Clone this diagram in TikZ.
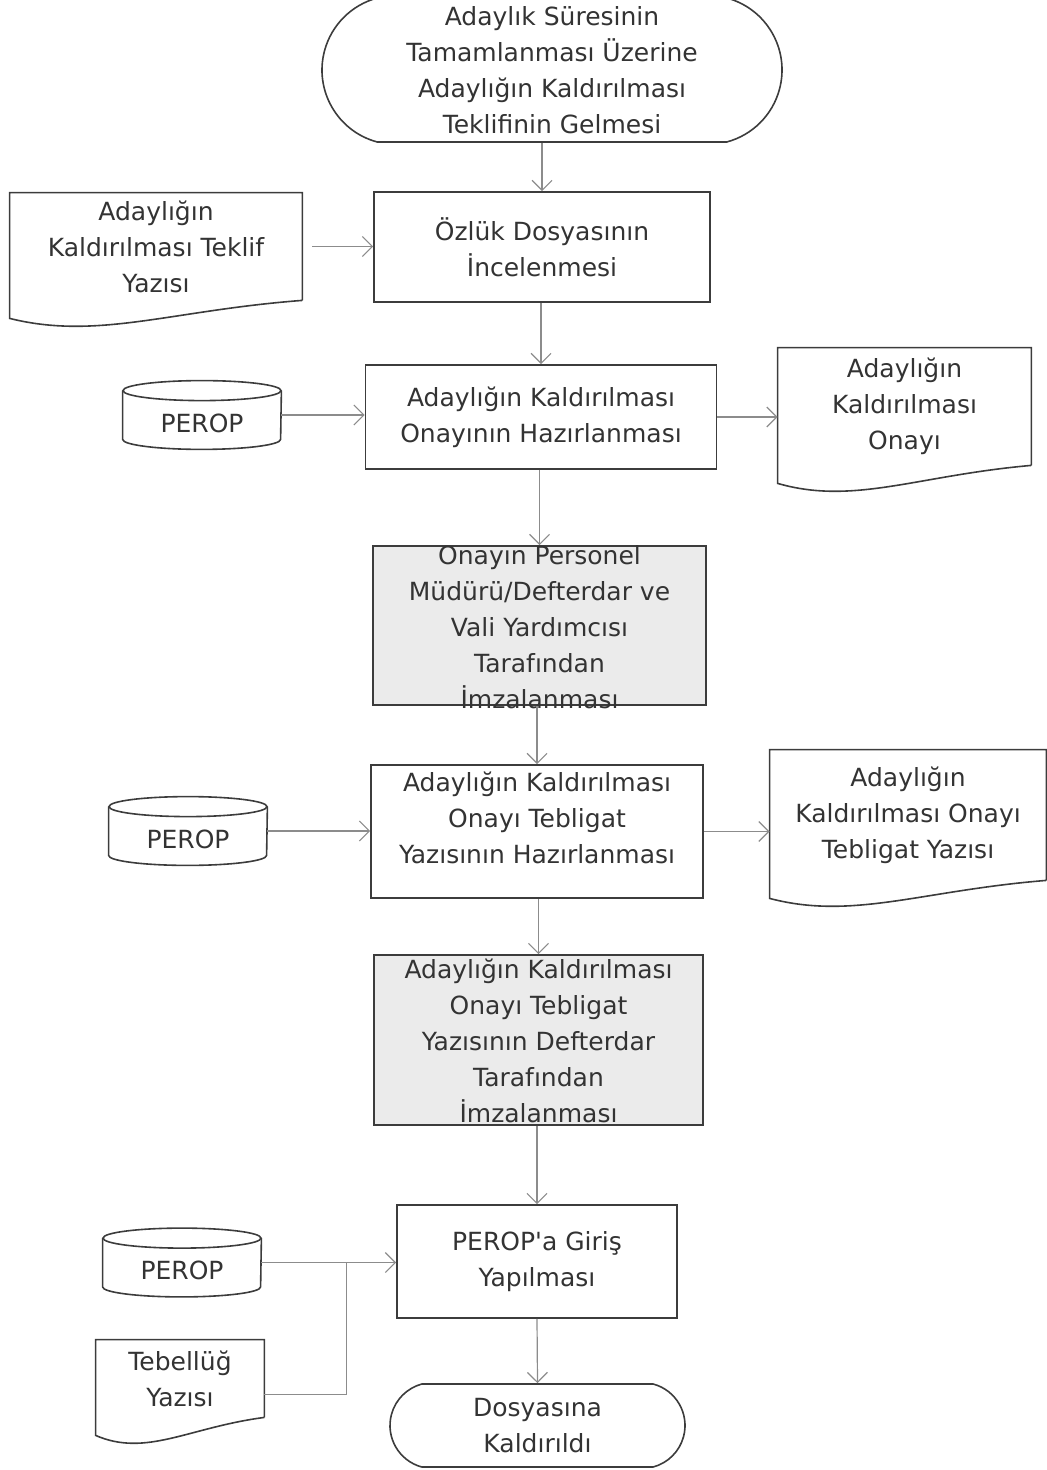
\documentclass[tikz,border=0pt]{standalone}
\usepackage{fontspec}
\setmainfont{DejaVu Sans}
\usetikzlibrary{arrows.meta,shapes.misc,calc}

\definecolor{kenar}{HTML}{3C3C3C}
\definecolor{okrenk}{HTML}{8C8C8C}
\definecolor{yazi}{HTML}{333333}
\definecolor{imzarenk}{HTML}{EBEBEB}

\tikzset{
  kutu/.style={draw=kenar, line width=0.8pt, rectangle, inner sep=0pt, align=center},
  imzakutu/.style={kutu, fill=imzarenk},
  uc/.style={draw=kenar, line width=0.8pt, rounded rectangle, rounded rectangle arc length=150, inner sep=0pt, align=center},
  belge/.style={rectangle, inner sep=0pt, align=center},
  veri/.style={rectangle, inner sep=0pt, minimum width=79pt, minimum height=34pt, text height=17pt, text depth=0pt},
  cizgi/.style={draw=kenar, line width=0.8pt},
  ok/.style={draw=okrenk, line width=0.6pt, -{Straight Barb[length=5pt,width=10pt]}},
}

\begin{document}
\begin{tikzpicture}[x=0.5pt, y=-0.5pt, font=\fontsize{12.5}{18}\selectfont, text=yazi]
  \useasboundingbox (0,0) rectangle (1046,1470);

  % ana akis
  \node[uc, minimum width=230pt, minimum height=72pt] (basla) at (552,70)
    {Adaylık Süresinin\\Tamamlanması Üzerine\\Adaylığın Kaldırılması\\Teklifinin Gelmesi};
  \node[kutu, minimum width=168pt, minimum height=55pt] (incele) at (542,247)
    {Özlük Dosyasının\\İncelenmesi};
  \node[kutu, minimum width=175.5pt, minimum height=52pt] (hazir) at (541,417)
    {Adaylığın Kaldırılması\\Onayının Hazırlanması};
  \node[imzakutu, minimum width=166.5pt, minimum height=79.5pt] (imza1) at (539.5,625.5) {};
  \node[align=center] (imza1-y) at (539.5,627)
    {Onayın Personel\\Müdürü/Defterdar ve\\Vali Yardımcısı\\Tarafından\\İmzalanması};
  \node[kutu, minimum width=166pt, minimum height=66.5pt] (teblhaz) at (537,831.5) {};
  \node[align=center] (teblhaz-y) at (537,818)
    {Adaylığın Kaldırılması\\Onayı Tebligat\\Yazısının Hazırlanması};
  \node[imzakutu, minimum width=164.5pt, minimum height=85pt] (imza2) at (538.5,1040) {};
  \node[align=center] (imza2-y) at (538.5,1041)
    {Adaylığın Kaldırılması\\Onayı Tebligat\\Yazısının Defterdar\\Tarafından\\İmzalanması};
  \node[kutu, minimum width=140pt, minimum height=56.5pt] (giris) at (537,1261.5)
    {PEROP\textquotesingle a Giriş\\Yapılması};
  \node[uc, minimum width=147.5pt, minimum height=41.5pt] (bitis) at (537.5,1425.5)
    {Dosyasına\\Kaldırıldı};

  % belgeler
  \node[belge, minimum width=146pt, minimum height=53.5pt] (teklif) at (156,246.5)
    {Adaylığın\\Kaldırılması Teklif\\Yazısı};
  \node[belge, minimum width=126.5pt, minimum height=58.5pt] (onay) at (904.5,406.5)
    {Adaylığın\\Kaldırılması\\Onayı};
  \node[belge, minimum width=138pt, minimum height=65pt] (teblig) at (908,815)
    {Adaylığın\\Kaldırılması Onayı\\Tebligat Yazısı};
  \node[belge, minimum width=84pt, minimum height=38.5pt] (tebellug) at (180,1378.5)
    {Tebellüğ\\Yazısı};
  \foreach \n in {teklif,onay,teblig,tebellug}
    \draw[cizgi] (\n.south east) -- (\n.north east) -- (\n.north west) -- ($(\n.south west)+(0,18)$)
      .. controls ($(\n.south west)!0.3!(\n.south east)+(0,40)$) and ($(\n.south west)!0.55!(\n.south east)+(0,10)$) .. (\n.south east);

  % veri tabanlari
  \node[veri] (perop1) at (202,415) {PEROP};
  \node[veri] (perop2) at (188,831) {PEROP};
  \node[veri] (perop3) at (182,1262.5) {PEROP};
  \foreach \n in {perop1,perop2,perop3} {
    \draw[cizgi] ($(\n.north)+(0,10)$) ellipse [x radius=79, y radius=10];
    \draw[cizgi] ($(\n.north west)+(0,10)$) -- ($(\n.south west)+(0,-10)$)
      arc [start angle=180, end angle=0, x radius=79, y radius=10] -- ($(\n.north east)+(0,10)$);
  }

  % baglantilar
  \draw[ok] (basla.south -| incele.north) -- (incele.north);
  \draw[ok, shorten <=5pt] (teklif.east) -- (teklif.east -| incele.west);
  \draw[ok] (incele.south -| hazir.north) -- (hazir.north);
  \draw[ok] (perop1.east) -- (perop1.east -| hazir.west);
  \draw[ok] (hazir.east) -- (hazir.east -| onay.west);
  \draw[ok] (hazir.south -| imza1.north) -- (imza1.north);
  \draw[ok] (imza1.south -| teblhaz.north) -- (teblhaz.north);
  \draw[ok] (perop2.east) -- (perop2.east -| teblhaz.west);
  \draw[ok] (teblhaz.east) -- (teblhaz.east -| teblig.west);
  \draw[ok] (teblhaz.south -| imza2.north) -- (imza2.north);
  \draw[ok] (imza2.south -| giris.north) -- (giris.north);
  \draw[ok] (perop3.east) -- (perop3.east -| giris.west);
  \coordinate (birles) at ($(perop3.east)!0.63!(perop3.east -| giris.west)$);
  \draw[draw=okrenk, line width=0.6pt] ([yshift=-8pt]tebellug.east) -| (birles);
  \draw[ok] (giris.south) -- (bitis.north);
\end{tikzpicture}
\end{document}
